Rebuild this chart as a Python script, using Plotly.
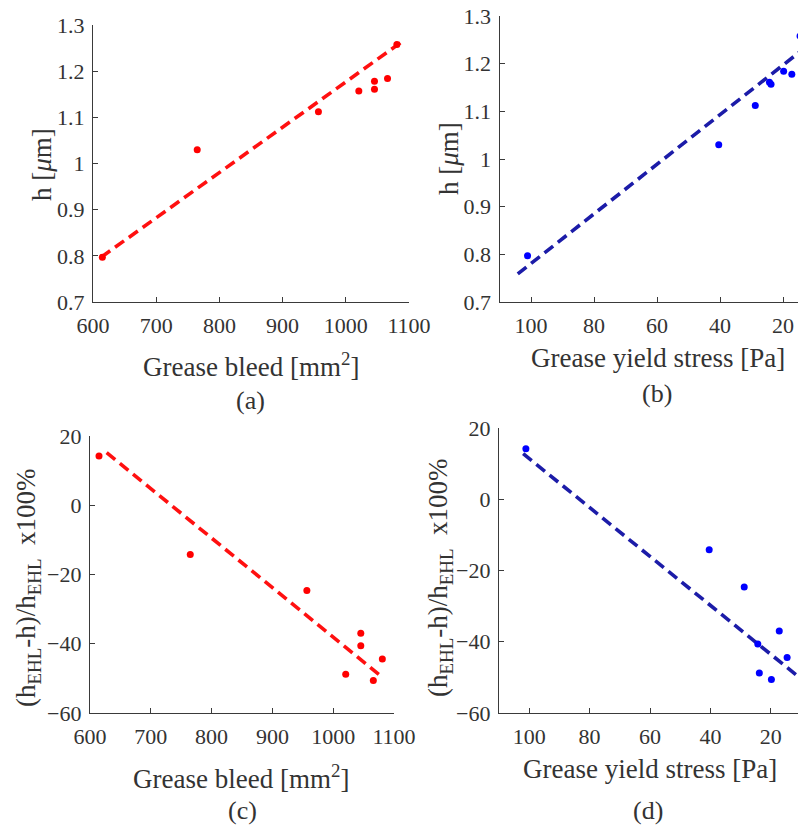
import plotly.graph_objects as go

# ---- data (one entry per grease) ----
bleed_mm2 = [614.8, 764.9, 956.7, 1020.6, 1045.4, 1045.4, 1066.0, 1080.8]
yield_pa = [101.1, 40.4, 28.8, 23.8, 24.3, 17.2, 19.8, 14.6]
h_um = [0.797, 1.030, 1.112, 1.157, 1.161, 1.178, 1.184, 1.258]
dev_pct = [14.2, -14.2, -24.6, -48.8, -40.6, -37.0, -50.6, -44.4]

# fitted trend lines (end points)
fit_a_x = [613, 1089]
fit_a_y = [0.797, 1.264]
fit_b_x = [104.2, 12.7]
fit_b_y = [0.759, 1.235]
fit_c_x = [627.4, 1082.5]
fit_c_y = [15.2, -49.9]
fit_d_x = [102.0, 10.3]
fit_d_y = [12.8, -50.2]

h_ticks = [0.7, 0.8, 0.9, 1.0, 1.1, 1.2, 1.3]
h_ticktext = ["0.7", "0.8", "0.9", "1", "1.1", "1.2", "1.3"]
dev_ticks = [-60, -40, -20, 0, 20]
bleed_ticks = [600, 700, 800, 900, 1000, 1100]
yield_ticks = [20, 40, 60, 80, 100]

# page body has an 8px margin -> the figure starts at (8, 8) in the window
OX, OY = 8, 8
W, H = 806 - OX, 825 - OY
RED = "#ff0000"
BLUE = "#0000ff"
RED_LINE = "#ff1010"
BLUE_LINE = "#1c1ca8"
TXT = "#333333"
FONT = "Liberation Serif, Times New Roman, serif"


def px_x(p):
    return (p - OX) / W


def px_y(p):
    return 1 - (p - OY) / H


fig = go.Figure()

panels = [
    ("x", "y", bleed_mm2, h_um, fit_a_x, fit_a_y, RED, RED_LINE),
    ("x2", "y2", yield_pa, h_um, fit_b_x, fit_b_y, BLUE, BLUE_LINE),
    ("x3", "y3", bleed_mm2, dev_pct, fit_c_x, fit_c_y, RED, RED_LINE),
    ("x4", "y4", yield_pa, dev_pct, fit_d_x, fit_d_y, BLUE, BLUE_LINE),
]

for xa, ya, xd, yd, fx, fy, mc, lc in panels:
    fig.add_trace(go.Scatter(x=fx, y=fy, mode="lines", xaxis=xa, yaxis=ya,
                             line=dict(color=lc, width=3.6, dash="11px,6px"),
                             showlegend=False, hoverinfo="skip"))
    fig.add_trace(go.Scatter(x=xd, y=yd, mode="markers", xaxis=xa, yaxis=ya,
                             marker=dict(color=mc, size=7, line=dict(width=0)),
                             showlegend=False, cliponaxis=False))

axis_common = dict(showgrid=False, zeroline=False, showline=True,
                   linecolor="#3a3a3a", linewidth=1.2, ticks="inside",
                   ticklen=5, tickwidth=1, tickcolor="#3a3a3a",
                   tickfont=dict(family=FONT, size=22, color=TXT),
                   ticklabeloverflow="allow",
                   automargin=False, mirror=False)

fig.update_layout(
    width=W, height=H,
    margin=dict(l=0, r=0, t=0, b=0),
    font=dict(family=FONT, color=TXT),
    paper_bgcolor="white", plot_bgcolor="white",
    xaxis=dict(domain=[px_x(93), px_x(409)], range=[600, 1100],
               tickvals=bleed_ticks, anchor="y", ticklabelstandoff=3,
               **axis_common),
    yaxis=dict(domain=[px_y(302), px_y(25)], range=[0.7, 1.3],
               tickvals=h_ticks, ticktext=h_ticktext, anchor="x",
               ticklabelstandoff=3, **axis_common),
    xaxis2=dict(domain=[px_x(499.5), 1.0], range=[110, 12.7],
                tickvals=yield_ticks, anchor="y2", ticklabelstandoff=3,
                **axis_common),
    yaxis2=dict(domain=[px_y(302), px_y(16)], range=[0.7, 1.3],
                tickvals=h_ticks, ticktext=h_ticktext, anchor="x2",
                ticklabelstandoff=3, **axis_common),
    xaxis3=dict(domain=[px_x(90), px_x(394)], range=[600, 1100],
                tickvals=bleed_ticks, anchor="y3", ticklabelstandoff=3,
                **axis_common),
    yaxis3=dict(domain=[px_y(713), px_y(436)], range=[-60, 20],
                tickvals=dev_ticks, anchor="x3", ticklabelstandoff=3,
                **axis_common),
    xaxis4=dict(domain=[px_x(499), px_x(801)], range=[110, 10],
                tickvals=yield_ticks, anchor="y4", ticklabelstandoff=3,
                **axis_common),
    yaxis4=dict(domain=[px_y(713), px_y(428)], range=[-60, 20],
                tickvals=dev_ticks, anchor="x4", ticklabelstandoff=3,
                **axis_common),
)

h_title = "h [<i>μ</i>m]"
dev_title = "(h<sub>EHL</sub>-h)/h<sub>EHL</sub>  x100%"
bleed_title = "Grease bleed [mm<sup>2</sup>]"
yield_title = "Grease yield stress [Pa]"

texts = [
    (h_title, 42, 165, -90, 27),
    (h_title, 449, 159, -90, 27),
    (dev_title, 28, 588, -90, 27),
    (dev_title, 440, 578, -90, 27),
    (bleed_title, 251, 365, 0, 27),
    (yield_title, 658, 358, 0, 27),
    (bleed_title, 241, 777, 0, 27),
    (yield_title, 650, 769, 0, 27),
    ("(a)", 250, 400, 0, 26),
    ("(b)", 657, 393, 0, 26),
    ("(c)", 242, 810, 0, 26),
    ("(d)", 648, 810, 0, 26),
]
for t, x, y, ang, sz in texts:
    fig.add_annotation(text=t, x=px_x(x), y=px_y(y), xref="paper",
                       yref="paper", xanchor="center", yanchor="middle",
                       showarrow=False, textangle=ang,
                       font=dict(family=FONT, size=sz, color=TXT))

fig.write_html("out.html")
